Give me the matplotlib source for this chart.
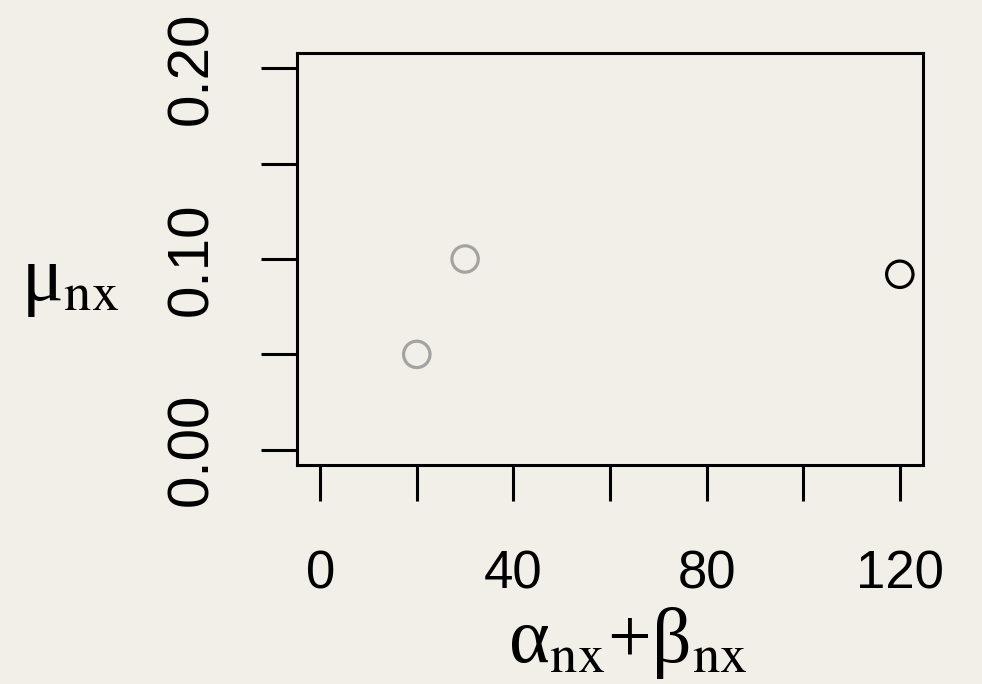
import matplotlib
matplotlib.use("Agg")
import matplotlib.pyplot as plt

# data
x_vals = [20, 30, 120]
y_vals = [0.05, 0.10, 0.092]
point_colors = ["#a3a3a3", "#a3a3a3", "#000000"]

x_ticks = [0, 20, 40, 60, 80, 100, 120]
x_labels = ["0", "", "40", "", "80", "", "120"]
y_ticks = [0.00, 0.05, 0.10, 0.15, 0.20]
y_labels = ["0.00", "", "0.10", "", "0.20"]

bg = "#f2efe9"
W, H = 982, 684

plt.rcParams["font.family"] = ["Liberation Sans", "DejaVu Sans"]
plt.rcParams["mathtext.fontset"] = "stix"

fig = plt.figure(figsize=(W / 100, H / 100), dpi=100, facecolor=bg)
ax = fig.add_axes([297 / W, (H - 465) / H, (923 - 297) / W, (465 - 53) / H])
ax.set_facecolor(bg)

ax.scatter(x_vals, y_vals, s=19 ** 2, facecolors="none",
           edgecolors=point_colors, linewidths=2.3, zorder=3)

# R style limits: 4% padding around 0..120 and 0..0.2
ax.set_xlim(0 - 0.04 * 120, 120 + 0.04 * 120)
ax.set_ylim(0 - 0.04 * 0.2, 0.2 + 0.04 * 0.2)

ax.set_xticks(x_ticks)
ax.set_xticklabels(x_labels)
ax.set_yticks(y_ticks)
ax.set_yticklabels(y_labels, rotation=90, va="center")

for s in ax.spines.values():
    s.set_linewidth(2.2)
ax.tick_params(axis="both", direction="out", length=26, width=2.2,
               colors="black")
ax.tick_params(axis="x", pad=35, labelsize=38)
ax.tick_params(axis="y", pad=30, labelsize=42)

serif = ["Liberation Serif", "DejaVu Serif"]
fig.text(70 / W, 1 - 283 / H, "μ$_{\\mathrm{nx}}$", fontsize=56,
         family=serif, ha="center", va="center")
fig.text(628 / W, 1 - 662 / H, "α$_{\\mathrm{nx}}$+β$_{\\mathrm{nx}}$",
         fontsize=56, family=serif, ha="center", va="baseline")

fig.savefig("out.png", dpi=100, facecolor=bg)
